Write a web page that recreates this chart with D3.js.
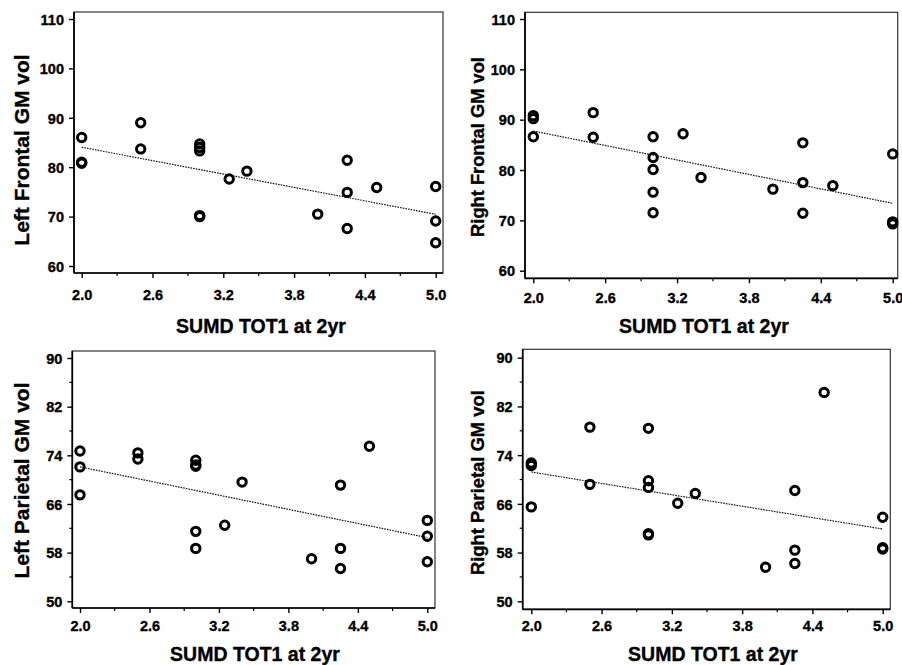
<!DOCTYPE html>
<html>
<head>
<meta charset="utf-8">
<script src="https://cdn.jsdelivr.net/npm/d3@7"></script>
<style>
  html, body { margin: 0; padding: 0; background: #fff; }
  svg { display: block; }
  text { font-family: "Liberation Sans", Arial, sans-serif; font-weight: bold; fill: #000;
         stroke: #000; stroke-width: 0.35px; }
</style>
</head>
<body>
<svg id="chart" width="902" height="665"></svg>
<script>
// SUMD TOT1 score at 2 years, one value per subject
const sumdTot1 = [2.0, 2.0, 2.0, 2.5, 2.5, 3.0, 3.0, 3.0, 3.0, 3.0,
                  3.25, 3.4, 4.0, 4.25, 4.25, 4.25, 4.5, 5.0, 5.0, 5.0];

// Grey matter volumes per region (same subject order as sumdTot1)
const leftFrontal   = [86.0, 80.8, 81.0, 89.0, 83.7, 84.7, 84.0, 83.3, 70.2, 70.0,
                       77.6, 79.2, 70.5, 81.4, 74.9, 67.6, 75.9, 76.1, 69.1, 64.7];
const rightFrontal  = [90.8, 90.2, 86.6, 91.4, 86.5, 86.6, 82.5, 80.1, 75.6, 71.5,
                       87.2, 78.5, 76.2, 85.4, 77.5, 71.4, 76.9, 83.2, 69.7, 69.3];
const leftParietal  = [74.7, 72.1, 67.5, 74.4, 73.4, 73.2, 72.4, 72.2, 61.5, 58.7,
                       62.5, 69.6, 57.0, 69.1, 58.7, 55.4, 75.5, 63.3, 60.7, 56.5];
const rightParietal = [72.7, 72.3, 65.5, 78.6, 69.2, 78.4, 69.8, 68.7, 61.1, 60.9,
                       66.1, 67.7, 55.6, 68.2, 58.4, 56.2, 84.3, 63.8, 58.8, 58.6];

// Fitted regression line values at x = 2.0 and x = 5.0
const fitLeftFrontal   = [84.05, 70.47];
const fitRightFrontal  = [87.75, 73.38];
const fitLeftParietal  = [72.1, 60.47];
const fitRightParietal = [71.23, 61.87];

// Axis ticks
const xTicks = [2.0, 2.6, 3.2, 3.8, 4.4, 5.0];
const xMinorTicks = [2.3, 2.9, 3.5, 4.1, 4.7];
const yTicksFrontal = [60, 70, 80, 90, 100, 110];
const yTicksParietal = [50, 58, 66, 74, 82, 90];
const yMinorParietal = [54, 62, 70, 78, 86];

const xTitle = "SUMD TOT1 at 2yr";

// Panel layout (pixel geometry of each scatter plot)
const panels = [
  { title: "Left Frontal GM vol", y: leftFrontal, fit: fitLeftFrontal,
    yTicks: yTicksFrontal, yMinor: [],
    xr: [81.7, 435.7], yr: [266, 19], frame: [74, 12, 443, 273],
    tickBase: 300, yTitleX: 29, yTitleY: 150, yTitleSize: 21,
    xTitleX: 261, xTitleY: 333 },
  { title: "Right Frontal GM vol", y: rightFrontal, fit: fitRightFrontal,
    yTicks: yTicksFrontal, yMinor: [],
    xr: [533.3, 892.7], yr: [270.7, 19], frame: [525, 12.3, 897.7, 278.3],
    tickBase: 303, yTitleX: 484, yTitleY: 147, yTitleSize: 18.3,
    xTitleX: 704, xTitleY: 333 },
  { title: "Left Parietal GM vol", y: leftParietal, fit: fitLeftParietal,
    yTicks: yTicksParietal, yMinor: yMinorParietal,
    xr: [80, 427.3], yr: [601.3, 358], frame: [72.3, 351, 435, 608],
    tickBase: 631, yTitleX: 29, yTitleY: 480.5, yTitleSize: 21,
    xTitleX: 255, xTitleY: 661 },
  { title: "Right Parietal GM vol", y: rightParietal, fit: fitRightParietal,
    yTicks: yTicksParietal, yMinor: yMinorParietal,
    xr: [531.3, 882.7], yr: [601.3, 357.7], frame: [522.7, 349.3, 890.3, 609.3],
    tickBase: 631, yTitleX: 484, yTitleY: 482.6, yTitleSize: 18.4,
    xTitleX: 713, xTitleY: 661 }
];

const svg = d3.select("#chart");

panels.forEach(p => {
  const g = svg.append("g");
  const [fx0, fy0, fx1, fy1] = p.frame;

  const x = d3.scaleLinear().domain([2, 5]).range(p.xr);
  const y = d3.scaleLinear().domain(d3.extent(p.yTicks)).range(p.yr);

  // plot frame: lighter top/right, heavier left/bottom axes
  g.append("rect")
    .attr("x", fx0).attr("y", fy0)
    .attr("width", fx1 - fx0).attr("height", fy1 - fy0)
    .attr("fill", "none").attr("stroke", "#333").attr("stroke-width", 1.2);
  g.append("line").attr("x1", fx0).attr("x2", fx0).attr("y1", fy0).attr("y2", fy1)
    .attr("stroke", "#000").attr("stroke-width", 1.7);
  g.append("line").attr("x1", fx0).attr("x2", fx1).attr("y1", fy1).attr("y2", fy1)
    .attr("stroke", "#000").attr("stroke-width", 1.7);

  // x axis ticks (major + minor) hung from the bottom frame edge
  const xAxis = d3.axisBottom(x).tickValues(xTicks).tickFormat(d3.format(".1f"))
    .tickSize(5).tickPadding(0);
  const xa = g.append("g").attr("transform", `translate(0,${fy1})`).call(xAxis);
  xa.select(".domain").remove();
  xa.selectAll("line").attr("stroke", "#000").attr("stroke-width", 1.4);
  xa.selectAll("text").attr("y", null).attr("dy", null)
    .attr("transform", `translate(0,${p.tickBase - fy1})`)
    .style("font-size", "14.5px").style("font-family", "Liberation Sans, Arial, sans-serif")
    .style("font-weight", "bold");
  g.selectAll(".xminor").data(xMinorTicks).enter().append("line")
    .attr("x1", d => x(d)).attr("x2", d => x(d))
    .attr("y1", fy1).attr("y2", fy1 + 3)
    .attr("stroke", "#000").attr("stroke-width", 1.2);

  // y axis ticks from the left frame edge
  const yAxis = d3.axisLeft(y).tickValues(p.yTicks).tickFormat(d3.format("d"))
    .tickSize(5).tickPadding(5);
  const ya = g.append("g").attr("transform", `translate(${fx0},0)`).call(yAxis);
  ya.select(".domain").remove();
  ya.selectAll("line").attr("stroke", "#000").attr("stroke-width", 1.4);
  ya.selectAll("text")
    .style("font-size", "14.5px").style("font-family", "Liberation Sans, Arial, sans-serif")
    .style("font-weight", "bold").attr("dy", "0.36em");
  g.selectAll(".yminor").data(p.yMinor).enter().append("line")
    .attr("x1", fx0).attr("x2", fx0 - 3)
    .attr("y1", d => y(d)).attr("y2", d => y(d))
    .attr("stroke", "#000").attr("stroke-width", 1.2);

  // dotted regression line
  g.append("line")
    .attr("x1", x(2)).attr("y1", y(p.fit[0]))
    .attr("x2", x(5)).attr("y2", y(p.fit[1]))
    .attr("stroke", "#111").attr("stroke-width", 1.2)
    .attr("stroke-dasharray", "1.6,1.1");

  // subject markers: open circles
  g.selectAll(".pt").data(sumdTot1.map((v, i) => [v, p.y[i]])).enter().append("circle")
    .attr("cx", d => x(d[0])).attr("cy", d => y(d[1]))
    .attr("r", 4.2)
    .attr("fill", "none").attr("stroke", "#000").attr("stroke-width", 3);

  // axis titles
  g.append("text")
    .attr("transform", `translate(${p.yTitleX},${p.yTitleY}) rotate(-90)`)
    .attr("text-anchor", "middle")
    .style("font-size", p.yTitleSize + "px")
    .text(p.title);
  g.append("text")
    .attr("x", p.xTitleX).attr("y", p.xTitleY)
    .attr("text-anchor", "middle")
    .style("font-size", "19.5px")
    .text(xTitle);
});
</script>
</body>
</html>
